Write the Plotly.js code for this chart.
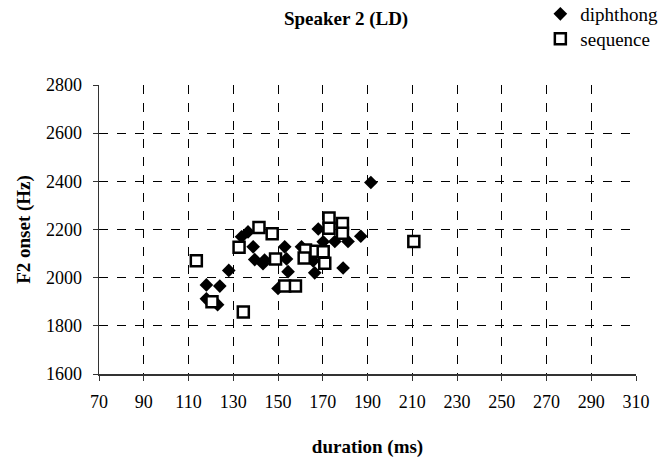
<!DOCTYPE html>
<html>
<head>
<meta charset="utf-8">
<script src="https://cdn.plot.ly/plotly-3.0.1.min.js"></script>
<style>html,body{margin:0;padding:0;background:#fff;}</style>
</head>
<body>
<div id="chart" style="width:663px;height:465px;"></div>
<script>
// diphthong: duration (ms), F2 onset (Hz)
const diphDur = [118, 124, 118, 123, 128, 133.7, 136.6, 138.9, 139.6, 144, 143.3, 153, 153.8, 154.5, 150, 160.5, 165.7, 166.4, 168, 170.2, 175.4, 181.3, 187, 179.1, 191.5];
const diphF2  = [1970, 1965, 1912, 1888, 2030, 2170, 2190, 2128, 2075, 2073, 2058, 2128, 2078, 2025, 1955, 2128, 2070, 2020, 2202, 2149, 2150, 2150, 2172, 2040, 2395];
// sequence
const seqDur = [113.5, 120.5, 134.5, 132.6, 141.5, 147.4, 148.9, 153, 157.8, 162.3, 161.7, 167, 170.2, 170.9, 172.8, 172.8, 178.8, 178.8, 210.7];
const seqF2  = [2070, 1900, 1857, 2126, 2208, 2182, 2078, 1965, 1965, 2115, 2082, 2110, 2108, 2060, 2248, 2205, 2225, 2184, 2150];

const xTicks = [70, 90, 110, 130, 150, 170, 190, 210, 230, 250, 270, 290, 310];
const yTicks = [1600, 1800, 2000, 2200, 2400, 2600, 2800];

const font = "Liberation Serif, serif";

const traces = [
  {
    x: diphDur, y: diphF2, type: 'scatter', mode: 'markers', name: 'diphthong',
    legend: 'legend',
    marker: {symbol: 'diamond', size: 10.5, color: '#000', line: {width: 0}}
  },
  {
    x: seqDur, y: seqF2, type: 'scatter', mode: 'markers', name: 'sequence',
    legend: 'legend2',
    marker: {symbol: 'square', size: 11, color: '#fff', line: {width: 2.5, color: '#000'}}
  }
];

const legendBase = {
  xref: 'container', yref: 'container', x: 0.815, xanchor: 'left', yanchor: 'middle',
  bgcolor: 'rgba(0,0,0,0)', borderwidth: 0, itemwidth: 30,
  font: {family: font, size: 19, color: '#000'}
};

const layout = {
  width: 663, height: 465,
  paper_bgcolor: '#fff', plot_bgcolor: '#fff',
  margin: {l: 99, r: 27, t: 85, b: 91, pad: 0, autoexpand: false},
  font: {family: font, color: '#000', size: 18},
  title: {
    text: '<b>Speaker 2 (LD)</b>', font: {family: font, size: 19, color: '#000'},
    xref: 'container', yref: 'container', x: 0.522, y: 0.961, xanchor: 'center', yanchor: 'middle'
  },
  xaxis: {
    range: [70, 310], tickvals: xTicks, ticktext: xTicks.map(String),
    showgrid: true, gridcolor: '#000', griddash: 'dash', gridwidth: 1,
    showline: true, linecolor: '#333', linewidth: 1.5,
    ticks: 'outside', ticklen: 5, tickcolor: '#333', ticklabelstandoff: 6,
    zeroline: false, tickfont: {family: font, size: 18, color: '#000'},
    title: {text: '<b>duration (ms)</b>', font: {family: font, size: 19, color: '#000'}, standoff: 28},
    automargin: false
  },
  yaxis: {
    range: [1600, 2800], tickvals: yTicks, ticktext: yTicks.map(String),
    showgrid: true, gridcolor: '#000', griddash: 'dash', gridwidth: 1,
    showline: true, linecolor: '#333', linewidth: 1.5,
    ticks: 'outside', ticklen: 5, tickcolor: '#333', ticklabelstandoff: 7,
    zeroline: false, tickfont: {family: font, size: 18, color: '#000'},
    title: {text: '<b>F2 onset (Hz)</b>', font: {family: font, size: 19, color: '#000'}, standoff: 10},
    automargin: false
  },
  showlegend: true,
  legend: Object.assign({}, legendBase, {y: 1 - 14 / 465}),
  legend2: Object.assign({}, legendBase, {y: 1 - 39 / 465})
};

Plotly.newPlot('chart', traces, layout, {displayModeBar: false, staticPlot: true});
</script>
</body>
</html>
